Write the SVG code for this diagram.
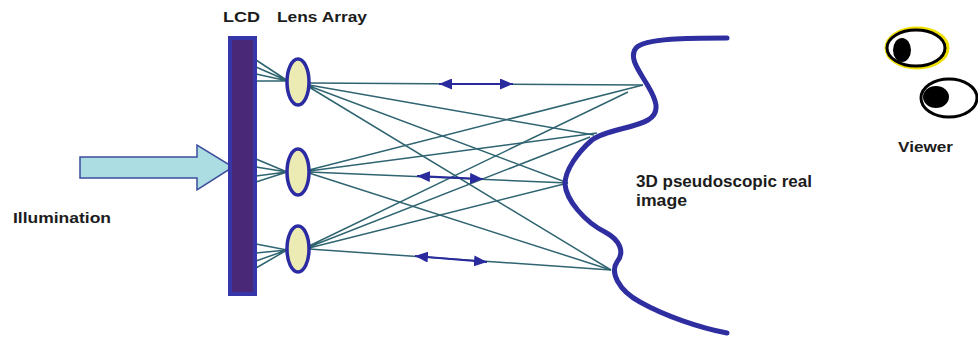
<svg xmlns="http://www.w3.org/2000/svg" width="978" height="338" viewBox="0 0 978 338">
  <style>
    .label { font-family: "Liberation Sans", Arial, sans-serif; fill: #1c1c1c; font-weight: bold; }
    .ray { stroke: #2f6471; stroke-width: 1.5; fill: none; }
    .lens { fill: #ecebb4; stroke: #2b2ba3; stroke-width: 3.5; }
    .dbl { stroke: #2a2a9e; stroke-width: 2; fill: none; marker-start: url(#headL); marker-end: url(#headR); }
    .eye { fill: #ffffff; stroke: #000; stroke-width: 3; }
  </style>
  <defs>
    <marker id="headR" viewBox="0 0 13 11" refX="13" refY="5.5" markerWidth="13" markerHeight="11" markerUnits="userSpaceOnUse" orient="auto">
      <path d="M0,0 L13,5.5 L0,11 Z" fill="#2a2a9e"/>
    </marker>
    <marker id="headL" viewBox="0 0 13 11" refX="0" refY="5.5" markerWidth="13" markerHeight="11" markerUnits="userSpaceOnUse" orient="auto">
      <path d="M13,0 L0,5.5 L13,11 Z" fill="#2a2a9e"/>
    </marker>
  </defs>

  <rect width="978" height="338" fill="#ffffff"/>

  <!-- connectors: rays from the LCD through the lenses to the real image -->
  <g id="connectors">
    <!-- LCD to lens fans -->
    <path class="ray" d="M256,60 L288,81 M256,67 L288,81 M256,74 L288,81 M256,81 L288,81"/>
    <path class="ray" d="M256,159 L287,172 M256,167 L287,172 M256,176 L287,172 M256,182 L287,172"/>
    <path class="ray" d="M256,244 L287,250 M256,253 L287,250 M256,261 L287,250 M256,268 L287,250"/>
    <!-- top lens rays -->
    <path class="ray" d="M309,83 L643,85 M309,85 L594,135 M309,86 L568,183 M309,87 L611,270"/>
    <!-- middle lens rays -->
    <path class="ray" d="M309,170 L643,85 M309,171 L597,133 M309,172 L568,183 M309,173 L611,270"/>
    <!-- bottom lens rays -->
    <path class="ray" d="M309,246 L628,92 M309,247 L590,137 M309,248 L568,183 M309,249 L611,270"/>
    <!-- double-headed arrows on the central rays -->
    <path class="dbl" d="M439,84 L513,84"/>
    <path class="dbl" d="M417,176 L483,179"/>
    <path class="dbl" d="M415,256 L487,262"/>
    <!-- illumination arrow -->
    <path d="M80,157 L197,157 L197,145 L233,167 L197,190 L197,178 L80,178 Z" fill="#abdde2" stroke="#3c4c9c" stroke-width="1.5"/>
  </g>

  <g id="lcd">
    <rect x="230" y="38" width="25" height="256" fill="#4a2878" stroke="#3636a8" stroke-width="4"/>
    <text class="label" x="223" y="22" font-size="15" textLength="37" lengthAdjust="spacingAndGlyphs">LCD</text>
  </g>

  <g id="lens-array">
    <ellipse class="lens" cx="298" cy="82" rx="11" ry="23"/>
    <ellipse class="lens" cx="298" cy="172" rx="11" ry="23"/>
    <ellipse class="lens" cx="298" cy="249" rx="11" ry="23"/>
    <text class="label" x="277" y="22" font-size="15" textLength="90" lengthAdjust="spacingAndGlyphs">Lens Array</text>
  </g>

  <g id="illumination">
    <text class="label" x="13" y="223" font-size="15" textLength="98" lengthAdjust="spacingAndGlyphs">Illumination</text>
  </g>

  <g id="real-image">
    <path d="M727,38 C690,38 645,38 636,48 C628,58 640,72 648,86 C655,98 662,112 648,120 C635,128 605,130 592,140 C578,152 565,170 565,184 C566,200 585,222 605,232 C620,240 625,252 617,262 C610,272 618,290 640,302 C665,316 700,328 727,333" fill="none" stroke="#2e2ea0" stroke-width="5" stroke-linecap="round"/>
    <text class="label" x="636" y="187" font-size="16" textLength="176" lengthAdjust="spacingAndGlyphs">3D pseudoscopic real</text>
    <text class="label" x="636" y="206" font-size="16" textLength="51" lengthAdjust="spacingAndGlyphs">image</text>
  </g>

  <g id="viewer">
    <ellipse cx="917" cy="48" rx="30" ry="19" fill="none" stroke="#f0e000" stroke-width="5"/>
    <ellipse class="eye" cx="916" cy="48" rx="29" ry="18"/>
    <ellipse cx="902" cy="50" rx="9" ry="12" fill="#000"/>
    <ellipse class="eye" cx="949" cy="98" rx="28" ry="19"/>
    <ellipse cx="936" cy="97" rx="13" ry="11" fill="#000"/>
    <text class="label" x="898" y="152" font-size="15" textLength="55" lengthAdjust="spacingAndGlyphs">Viewer</text>
  </g>
</svg>
